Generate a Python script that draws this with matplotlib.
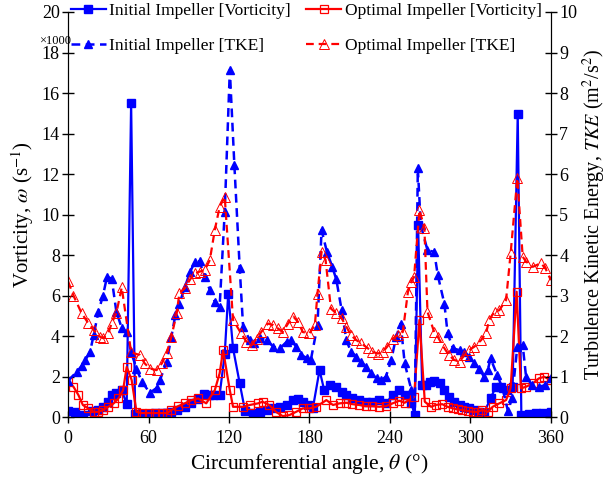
import matplotlib
matplotlib.use('Agg')
import matplotlib.pyplot as plt

plt.rcParams['font.family'] = ['Liberation Serif', 'DejaVu Serif']
plt.rcParams['mathtext.fontset'] = 'stix'

# Initial impeller, vorticity (x1000 s^-1)
init_vort_x = [0, 5, 11, 17.5, 22, 26, 30, 32.5, 36, 40, 43.7, 47, 50, 55, 60, 65, 70, 74, 77, 81,
               87, 92, 97, 101, 105, 108, 113, 116.8, 119.4, 123, 128, 132, 138, 143, 148, 153, 158,
               163, 168, 171.5, 175, 179, 182.5, 187.5, 191, 195, 200, 204, 207.5, 212, 217, 222,
               227, 232, 237, 242, 247, 251, 256, 258.5, 261, 264, 267, 270, 273, 277, 280.5, 284,
               288, 292, 295.5, 299, 303, 306.5, 310, 315, 319, 323, 327, 331.5, 335.3, 338, 344,
               349, 354, 360]
init_vort = [0.3, 0.26, 0.1, 0.3, 0.35, 0.5, 0.75, 1.1, 1.2, 1.33, 0.64, 15.5, 0.15, 0.15, 0.15, 0.2,
             0.2, 0.2, 0.26, 0.35, 0.5, 0.7, 0.9, 1.15, 1.1, 1.1, 1.1, 3.1, 6.1, 3.4, 1.66, 0.3, 0.18,
             0.26, 0.35, 0.43, 0.51, 0.6, 0.84, 0.87, 0.76, 0.6, 0.43, 2.32, 1.33, 1.58, 1.5, 1.25,
             1.09, 0.92, 0.84, 0.76, 0.76, 0.84, 0.68, 1.09, 1.33, 1.1, 0.68, 0.1, 9.5, 1.6, 1.6,
             1.74, 1.8, 1.66, 1.33, 1.0, 0.76, 0.6, 0.51, 0.43, 0.35, 0.26, 0.18, 0.92, 1.5, 1.5,
             1.33, 1.5, 14.96, 0.1, 0.13, 0.18, 0.21, 0.26]

# Optimal impeller, vorticity
opt_vort_x = [0, 4, 7.7, 11, 15, 19, 22.6, 26, 30, 34, 37.5, 41, 43.7, 47.4, 51, 55, 60, 65, 70, 74,
              77, 82, 87, 92, 97, 103, 109.4, 113, 115.6, 120.6, 123, 130.5, 135.5, 141.7, 145, 150,
              155, 160, 165, 170, 175, 180, 185, 192.6, 197.5, 202.5, 207.5, 212, 217, 222, 227,
              232, 237, 242, 247, 251, 258, 262, 266, 270.7, 274, 279, 283, 287, 290.5, 294, 298,
              301.7, 305.4, 309, 313, 316.6, 321.6, 326.6, 330, 334.5, 337.7, 341.5, 346.5, 351,
              355, 360]
opt_vort = [1.74, 1.5, 1.09, 0.6, 0.43, 0.26, 0.26, 0.35, 0.51, 0.68, 0.92, 1.33, 2.48, 1.83, 0.26,
            0.2, 0.2, 0.2, 0.2, 0.2, 0.35, 0.54, 0.68, 0.84, 0.92, 0.68, 1.33, 2.16, 3.3, 1.33, 0.51,
            0.51, 0.6, 0.68, 0.76, 0.6, 0.26, 0.05, 0.1, 0.26, 0.43, 0.43, 0.51, 0.84, 0.6, 0.68,
            0.71, 0.64, 0.6, 0.54, 0.54, 0.51, 0.54, 0.68, 0.81, 0.71, 1.0, 4.8, 0.76, 0.51, 0.6,
            0.64, 0.51, 0.43, 0.38, 0.35, 0.3, 0.26, 0.26, 0.35, 0.26, 0.51, 0.68, 0.84, 1.42, 6.19,
            1.42, 1.5, 1.66, 1.91, 1.99, 1.83]

# Initial impeller, TKE (m^2/s^2)
init_tke_x = [0, 6.5, 10, 12.7, 16.4, 19, 22.6, 26, 29, 32.5, 36, 40, 43.7, 47, 51, 55, 61, 66, 68.5,
              73.5, 77, 80, 83, 87, 91, 94.6, 98, 102, 105.7, 109.4, 113, 116.8, 120.6, 124, 128,
              130.5, 135.5, 139, 143, 148, 153, 158, 163, 166.5, 170, 174, 178, 181, 186, 189, 193,
              197, 200, 204, 207.5, 211, 215, 218.6, 222, 226, 230, 233.5, 237, 241, 244.6, 248,
              251, 256, 258.5, 260.8, 263, 268, 273, 275.7, 280.6, 283, 287, 292, 295.5, 299, 303,
              306.7, 310, 313, 315, 320, 324, 328, 331, 335, 339, 341.5, 346, 351, 356, 360]
init_tke = [0.9, 1.12, 1.26, 1.4, 1.61, 2.02, 2.6, 3.0, 3.46, 3.42, 2.6, 2.2, 2.1, 1.6, 1.2, 0.87,
            0.6, 0.72, 0.91, 1.37, 1.98, 2.52, 2.8, 3.2, 3.59, 3.83, 3.85, 3.46, 3.14, 2.85, 2.72,
            5.07, 8.57, 6.22, 3.67, 2.23, 1.9, 1.83, 1.95, 1.9, 1.74, 1.7, 1.86, 1.9, 1.74, 1.53,
            1.46, 1.41, 2.27, 4.62, 4.08, 3.71, 3.4, 2.64, 1.9, 1.61, 1.49, 1.37, 1.24, 1.08, 0.96,
            0.91, 1.0, 1.41, 1.98, 2.31, 1.33, 0.67, 0.05, 6.14, 4.74, 4.12, 4.08, 3.5, 2.8, 2.07,
            1.7, 1.65, 1.61, 1.49, 1.33, 1.2, 1.0, 1.16, 1.45, 1.04, 0.71, 0.15, 0.46, 1.74, 1.78,
            1.0, 0.79, 0.75, 0.79, 0.96]

# Optimal impeller, TKE
opt_tke_x = [0, 4, 10, 15, 19, 24, 26, 30, 32.5, 36, 40, 47, 53.6, 57, 61, 66, 70, 73.5, 77, 81, 83,
             87, 91, 94.6, 98, 102, 105.7, 109.4, 113, 116.8, 123, 129, 133, 137, 140.5, 144, 149,
             153, 156.5, 160, 164, 168, 171.5, 175, 180, 184, 186, 189, 192, 196, 200, 204, 207.5,
             211, 215, 218.6, 223.5, 227, 231, 234.7, 238, 242, 246, 249.6, 253.4, 256, 258, 262,
             265.7, 268, 273, 275.7, 280.6, 284, 288, 292, 295.5, 299, 303, 308, 311.7, 314, 318,
             321.6, 326.6, 330, 335, 339, 341.5, 346.5, 352.6, 356, 360]
opt_tke = [3.35, 3.0, 2.57, 2.32, 2.15, 1.98, 1.95, 2.07, 2.32, 2.57, 3.2, 1.6, 1.53, 1.33, 1.2, 1.16,
           1.33, 1.58, 1.98, 2.57, 3.06, 3.18, 3.4, 3.55, 3.59, 3.63, 3.88, 4.62, 5.19, 5.44, 2.4,
           2.07, 1.86, 1.78, 1.94, 2.1, 2.31, 2.27, 2.19, 2.1, 2.31, 2.48, 2.35, 2.1, 2.07, 2.27,
           3.05, 4.08, 3.88, 2.68, 2.56, 2.44, 2.23, 2.02, 1.9, 1.82, 1.7, 1.61, 1.57, 1.61, 1.74,
           1.94, 2.02, 2.1, 3.09, 3.34, 3.46, 5.11, 4.67, 2.6, 2.1, 1.98, 1.7, 1.53, 1.41, 1.37,
           1.53, 1.65, 1.74, 1.9, 2.07, 2.4, 2.6, 2.64, 2.89, 4.04, 5.9, 3.96, 3.84, 3.71, 3.8,
           3.67, 3.38]

blue = '#0000ff'
red = '#ff0000'

fig = plt.figure(figsize=(6.08, 4.8), dpi=100)
ax = fig.add_axes([0.112, 0.131, 0.794, 0.844])
ax2 = ax.twinx()

l1, = ax.plot(init_vort_x, init_vort, '-', color=blue, lw=1.6, marker='s', ms=5.5,
              mfc=blue, mec=blue, label='Initial Impeller [Vorticity]')
l2, = ax.plot(opt_vort_x, opt_vort, '-', color=red, lw=1.6, marker='s', ms=6,
              mfc='none', mec=red, mew=0.9, label='Optimal Impeller [Vorticity]')
l3, = ax2.plot(init_tke_x, init_tke, '--', color=blue, lw=1.8, dashes=(3.5, 2.2), marker='^',
               ms=6, mfc=blue, mec=blue, label='Initial Impeller [TKE]')
l4, = ax2.plot(opt_tke_x, opt_tke, '--', color=red, lw=1.6, dashes=(3.5, 2.2), marker='^',
               ms=6.5, mfc='none', mec=red, mew=0.7, label='Optimal Impeller [TKE]')

ax.set_xlim(0, 360)
ax.set_ylim(0, 20)
ax2.set_ylim(0, 10)
ax.set_xticks(range(0, 361, 60))
ax.set_yticks(range(0, 21, 2))
ax2.set_yticks(range(0, 11, 1))

for a in (ax, ax2):
    a.spines['top'].set_visible(False)
    a.tick_params(direction='inout', length=8, width=1, labelsize=13)
ax.tick_params(axis='y', pad=2)
ax2.tick_params(axis='y', pad=2)
ax.tick_params(axis='x', pad=5)

ax.set_xlabel(r'Circumferential angle, $\theta$ (°)', fontsize=15.5, labelpad=4)
ax.set_ylabel(r'Vorticity, $\omega$ (s$^{-1}$)', fontsize=15, labelpad=4)
ax2.set_ylabel(r'Turbulence Kinetic Energy, $TKE$ (m$^2$/s$^2$)', fontsize=14.5, labelpad=3)
ax.text(-0.028, 0.928, '×1000', transform=ax.transAxes, ha='center', va='center', fontsize=9)

ax2.legend(handles=[l1, l3, l2, l4], ncol=2, loc='upper left', bbox_to_anchor=(0.006, 1.022),
           frameon=False, fontsize=12.5, handlelength=2.0, handletextpad=0.2,
           columnspacing=0.9, labelspacing=1.05, borderpad=0, borderaxespad=0)

fig.savefig('out.png', dpi=100)
